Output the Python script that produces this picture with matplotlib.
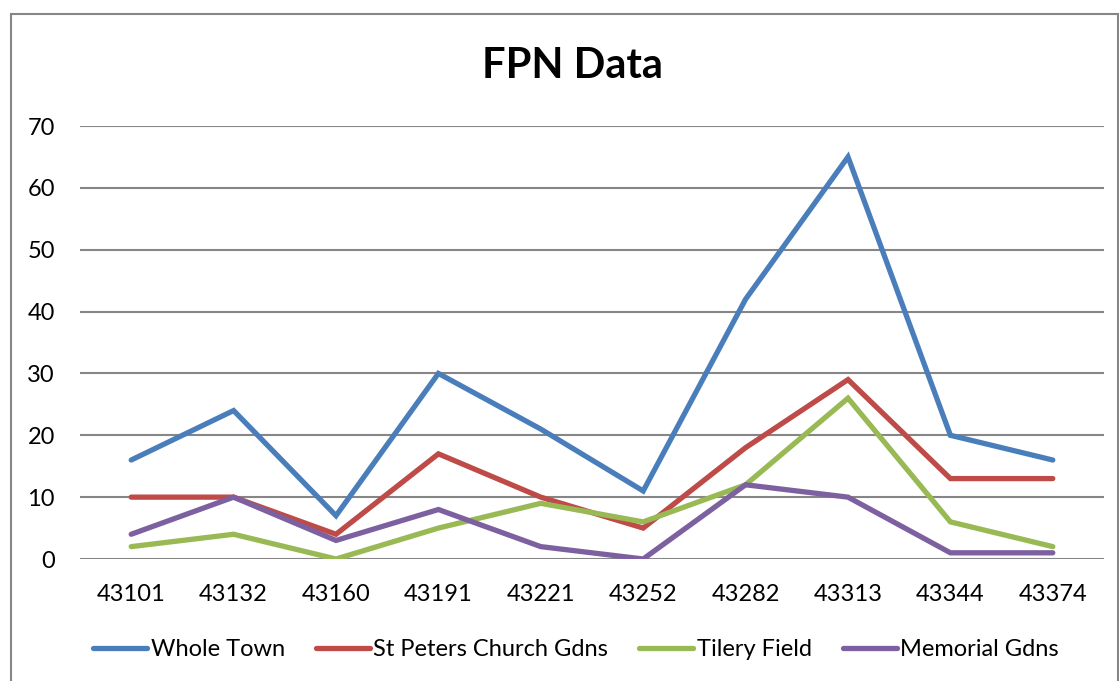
import matplotlib.pyplot as plt
from matplotlib.patches import Rectangle

# category labels (Excel date serials shown as plain numbers)
months = ["43101", "43132", "43160", "43191", "43221",
          "43252", "43282", "43313", "43344", "43374"]

whole_town = [16, 24, 7, 30, 21, 11, 42, 65, 20, 16]
st_peters = [10, 10, 4, 17, 10, 5, 18, 29, 13, 13]
tilery = [2, 4, 0, 5, 9, 6, 12, 26, 6, 2]
memorial = [4, 10, 3, 8, 2, 0, 12, 10, 1, 1]

series = [
    ("Whole Town", whole_town, "#4a7ebb"),
    ("St Peters Church Gdns", st_peters, "#be4b48"),
    ("Tilery Field", tilery, "#98b954"),
    ("Memorial Gdns", memorial, "#7d60a0"),
]

plt.rcParams['font.family'] = ['Lato', 'DejaVu Sans']

fig = plt.figure(figsize=(11.19, 6.81), dpi=100)
ax = fig.add_axes([80/1119, 1 - 559/681, (1104 - 80)/1119, (559 - 126)/681])

x = range(len(months))
for name, vals, col in series:
    ax.plot(x, vals, color=col, lw=3.8, label=name, solid_capstyle='round',
            solid_joinstyle='miter')

ax.set_xlim(-0.5, len(months) - 0.5)
ax.set_ylim(0, 70)
ax.set_yticks(range(0, 71, 10))
ax.set_xticks(list(x))
ax.set_xticklabels(months)
ax.tick_params(axis='both', length=0, labelsize=17, colors='black')
ax.tick_params(axis='y', pad=18)
ax.tick_params(axis='x', pad=18)
for s in ax.spines.values():
    s.set_visible(False)
ax.yaxis.grid(True, color='#868686', lw=1.5)
ax.set_axisbelow(True)

fig.text(572/1119, 1 - 66/681, "FPN Data", ha='center', va='center',
         fontsize=30, fontweight='bold')

leg = fig.legend(loc='center', bbox_to_anchor=(576/1119, 1 - 650/681), ncol=4,
                 frameon=False, fontsize=17, handlelength=2.3, handletextpad=0.15,
                 columnspacing=1.3)

# chart border
fig.patches.append(Rectangle((11/1119, -0.02), 1107/1119, 1 - 14/681 + 0.02,
                             transform=fig.transFigure, fill=False,
                             edgecolor='#868686', lw=1.5))

fig.savefig("out.png", dpi=100)
